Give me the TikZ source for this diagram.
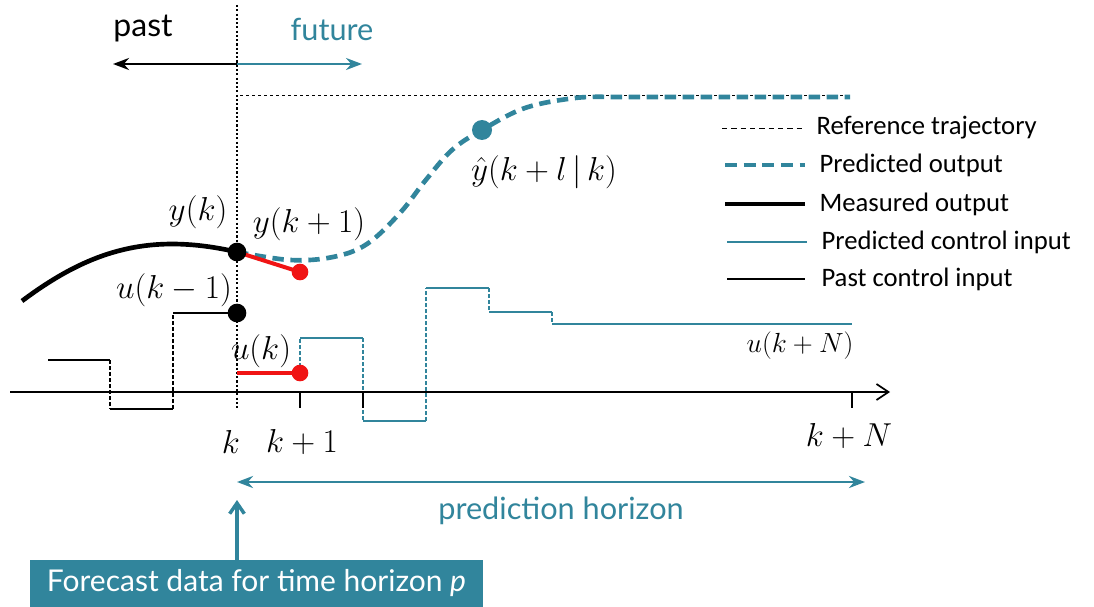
\documentclass[tikz,border=0pt]{standalone}
\usepackage[no-math]{fontspec}
\usetikzlibrary{arrows.meta}
\newfontfamily\legendfont{Carlito}
\newfontfamily\labelfont{Lato}
\definecolor{mpcteal}{RGB}{49,133,156}
\definecolor{mpcred}{RGB}{240,20,20}

\tikzset{every picture/.style={line width=0.75pt}}

\begin{document}
\begin{tikzpicture}[
            x=0.75pt,
            y=0.75pt,
            yscale=-1,
            xscale=1,
            line width=0.75pt,
            mathlbl/.style={inner sep=0.75pt, font=\fontsize{23.5}{28}\selectfont},
            sanslbl/.style={inner sep=0.75pt, font=\labelfont\fontsize{23}{27}\selectfont},
            legtext/.style={anchor=west, inner sep=0.75pt, font=\legendfont\fontsize{20}{24}\selectfont},
            blackdot/.style={circle, fill=black, inner sep=0pt, minimum size=14pt},
            reddot/.style={circle, fill=mpcred, inner sep=0pt, minimum size=12.5pt},
            tealdot/.style={circle, fill=mpcteal, inner sep=0pt, minimum size=15pt},
            refline/.style={dash pattern={on 2.5pt off 2pt}, line width=0.6pt},
            predout/.style={mpcteal, dash pattern={on 8.5pt off 5pt}, line width=3.5pt},
            measout/.style={black, line width=3.5pt},
            predu/.style={mpcteal, line width=1.9pt},
            pastu/.style={black, line width=1.7pt},
            stepjump/.style={dash pattern={on 3pt off 1.5pt}, line width=0.9pt}
        ]
            \useasboundingbox (0,0) rectangle (1094,606);

            % time now: dotted line, past / future
            \coordinate (ktop) at (237,5);
            \coordinate (kbot) at (237,410);
            \draw [dash pattern={on 1.6pt off 1.6pt}, line width=1.9pt] (ktop) -- (kbot);
            \coordinate (now) at (237,64);
            \coordinate (pastend) at (113,64);
            \coordinate (futend) at (362,64);
            \draw [-{Stealth[length=12pt,width=9pt]}, line width=1.9pt] (now) -- (pastend);
            \draw [mpcteal, -{Stealth[length=12pt,width=9pt]}, line width=1.9pt] (now) -- (futend);
            \node [sanslbl, font=\labelfont\fontsize{24}{28}\selectfont] (past) at (143,29) {past};
            \node [sanslbl, text=mpcteal] (future) at (332,29) {future};

            % reference trajectory
            \draw [refline] (240,95) -- (850,95);

            % outputs
            \coordinate (yk) at (237,252);
            \coordinate (yk1) at (300,272);
            \coordinate (yhat) at (482,130);
            \draw [measout] (22,301) .. controls (90,250) and (150,232) .. (yk);
            \draw [predout] plot [smooth, tension=0.6] coordinates {(237,252) (290,260) (333,257) (367,244) (400,213) (425,181) (452,150) (482,130) (525,108) (575,98) (610,97)} -- (850,97);
            \draw [mpcred, line width=3pt] (yk) -- (yk1);
            \node [blackdot] at (yk) {};
            \node [reddot] at (yk1) {};
            \node [tealdot] at (yhat) {};
            \node [mathlbl] (lblyk) at (198,212) {$y(k)$};
            \node [mathlbl] (lblyk1) at (309,224) {$y(k+1)$};
            \node [mathlbl] (lblyhat) at (544,172) {$\hat{y}(k+l\,|\,k)$};

            % past control input
            \coordinate (ukm1) at (237,313);
            \draw [pastu] (48,360) -- (110,360);
            \draw [pastu, stepjump] (110,360) -- (110,409);
            \draw [pastu] (110,409) -- (173,409);
            \draw [pastu, stepjump] (173,409) -- (173,313);
            \draw [pastu] (173,313) -- (ukm1);
            \node [blackdot] at (ukm1) {};
            \node [mathlbl, font=\fontsize{25}{30}\selectfont] (lblukm1) at (174,290) {$u(k-1)$};

            % predicted control input
            \coordinate (uk) at (237,373);
            \coordinate (uk1) at (300,373);
            \draw [mpcred, line width=3pt] (uk) -- (uk1);
            \draw [predu, stepjump] (uk1) -- (300,338);
            \draw [predu] (300,338) -- (363,338);
            \draw [predu, stepjump] (363,338) -- (363,421);
            \draw [predu] (363,421) -- (426,421);
            \draw [predu, stepjump] (426,421) -- (426,288);
            \draw [predu] (426,288) -- (489,288);
            \draw [predu, stepjump] (489,288) -- (489,312);
            \draw [predu] (489,312) -- (552,312);
            \draw [predu, stepjump] (552,312) -- (552,324);
            \draw [predu] (552,324) -- (852,324);
            \node [reddot] at (uk1) {};
            \node [mathlbl, font=\fontsize{25}{30}\selectfont] (lbluk) at (261,351) {$u(k)$};
            \node [mathlbl, font=\fontsize{20.5}{24}\selectfont] (lblukN) at (800,346) {$u(k+N)$};

            % time axis
            \coordinate (axstart) at (10,392);
            \coordinate (axend) at (890,392);
            \draw [line width=1.3pt, -{Straight Barb[length=9pt,width=12pt]}] (axstart) -- (axend);
            \draw [line width=1.3pt] (300,392) -- (300,408);
            \draw [line width=1.3pt] (363,392) -- (363,408);
            \draw [line width=1.3pt] (852,392) -- (852,408);
            \node [mathlbl] (tk) at (231,442) {$k$};
            \node [mathlbl] (tk1) at (302,442) {$k+1$};
            \node [mathlbl] (tkN) at (849,436) {$k+N$};

            % prediction horizon
            \coordinate (phleft) at (237,482);
            \coordinate (phright) at (865,482);
            \draw [mpcteal, line width=2.2pt, {Stealth[length=12pt,width=9pt]}-{Stealth[length=12pt,width=9pt]}] (phleft) -- (phright);
            \node [sanslbl, text=mpcteal] (horizon) at (561,511) {prediction horizon};

            % forecast data
            \node [fill=mpcteal, text=white, minimum width=340pt, minimum height=35pt, inner sep=0pt, font=\labelfont\fontsize{22.5}{27}\selectfont] (forecast) at (256.5,583.5) {Forecast data for time horizon \textit{p}};
            \draw [mpcteal, line width=2.6pt, -{Straight Barb[length=8pt,width=11pt]}] (forecast.north -| kbot) -- (237,500);

            % legend
            \draw [refline, dash pattern={on 4pt off 3pt}] (722,128) -- (802,128);
            \node [legtext] (legref) at (815,128) {Reference trajectory};
            \draw [predout, dash pattern={on 9pt off 5pt}] (725,165) -- (805,165);
            \node [legtext] (legpred) at (818,165) {Predicted output};
            \draw [measout] (725,204) -- (805,204);
            \node [legtext] (legmeas) at (818,204) {Measured output};
            \draw [predu] (727,242) -- (807,242);
            \node [legtext] (legpredu) at (820,242) {Predicted control input};
            \draw [pastu] (727,279) -- (805,279);
            \node [legtext] (legpastu) at (820,279) {Past control input};
        \end{tikzpicture}
\end{document}
